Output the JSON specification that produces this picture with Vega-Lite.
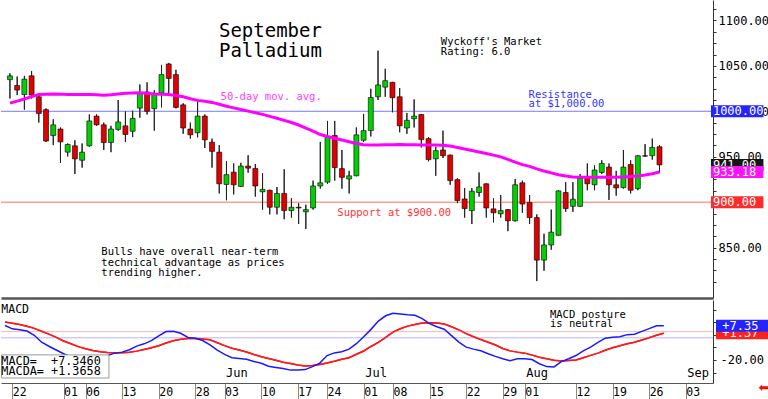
{
  "$schema": "https://vega.github.io/schema/vega-lite/v6.json",
  "padding": 0,
  "background": "white",
  "spacing": 2,
  "bounds": "flush",
  "config": {"view": {"stroke": null}, "text": {"font": "DejaVu Sans Mono"}, "axis": {"grid": false, "labelOverlap": false, "labelFlush": false, "labelBound": false}},
  "resolve": {"scale": {"x": "independent", "y": "independent", "color": "independent"}},
  "datasets": {
    "ohlc": [
      {"n":1,"o":1034.8,"h":1041.8,"l":1014.1,"c":1039.0,"ma":1009.0,"macd":7.5,"sig":10.3},
      {"n":2,"o":1028.4,"h":1038.3,"l":1017.8,"c":1023.4,"ma":1011.2,"macd":4.8,"sig":9.3},
      {"n":3,"o":1018.4,"h":1039.0,"l":1001.8,"c":1035.4,"ma":1013.5,"macd":4.1,"sig":8.3},
      {"n":4,"o":1039.0,"h":1044.4,"l":1014.1,"c":1017.8,"ma":1016.2,"macd":3.1,"sig":6.9},
      {"n":5,"o":1016.0,"h":1017.8,"l":987.6,"c":997.6,"ma":1018.4,"macd":-0.3,"sig":5.2},
      {"n":6,"o":1001.8,"h":1003.2,"l":966.3,"c":967.3,"ma":1018.7,"macd":-5.8,"sig":2.9},
      {"n":7,"o":973.4,"h":991.2,"l":962.8,"c":985.1,"ma":1019.0,"macd":-9.0,"sig":0.6},
      {"n":8,"o":980.5,"h":982.2,"l":943.3,"c":966.3,"ma":1018.9,"macd":-12.0,"sig":-2.0},
      {"n":9,"o":955.0,"h":964.6,"l":950.3,"c":963.5,"ma":1018.6,"macd":-15.0,"sig":-4.8},
      {"n":10,"o":962.0,"h":968.1,"l":930.9,"c":947.6,"ma":1018.4,"macd":-17.5,"sig":-7.0},
      {"n":11,"o":946.1,"h":964.6,"l":938.0,"c":955.0,"ma":1018.4,"macd":-18.5,"sig":-9.3},
      {"n":12,"o":962.0,"h":996.5,"l":961.0,"c":989.4,"ma":1018.4,"macd":-17.8,"sig":-11.0},
      {"n":13,"o":994.7,"h":996.5,"l":984.0,"c":985.1,"ma":1018.1,"macd":-17.0,"sig":-12.4},
      {"n":14,"o":985.1,"h":987.6,"l":957.4,"c":965.6,"ma":1017.8,"macd":-17.0,"sig":-13.4},
      {"n":15,"o":965.6,"h":984.0,"l":955.0,"c":980.5,"ma":1018.3,"macd":-16.3,"sig":-13.9},
      {"n":16,"o":980.1,"h":1012.4,"l":978.7,"c":988.3,"ma":1019.1,"macd":-14.5,"sig":-14.2},
      {"n":17,"o":984.0,"h":1000.0,"l":966.3,"c":974.5,"ma":1019.8,"macd":-13.7,"sig":-14.2},
      {"n":18,"o":978.0,"h":1000.7,"l":971.6,"c":992.2,"ma":1020.2,"macd":-11.8,"sig":-13.8},
      {"n":19,"o":1003.5,"h":1029.5,"l":992.9,"c":1019.5,"ma":1020.3,"macd":-8.9,"sig":-12.9},
      {"n":20,"o":1021.3,"h":1031.9,"l":996.5,"c":1000.0,"ma":1019.8,"macd":-7.1,"sig":-11.6},
      {"n":21,"o":1002.9,"h":1023.1,"l":978.7,"c":1018.4,"ma":1019.1,"macd":-4.5,"sig":-10.2},
      {"n":22,"o":1020.2,"h":1051.1,"l":1004.3,"c":1040.4,"ma":1018.8,"macd":-0.8,"sig":-8.6},
      {"n":23,"o":1052.1,"h":1053.2,"l":1019.1,"c":1036.2,"ma":1018.5,"macd":2.7,"sig":-6.4},
      {"n":24,"o":1040.4,"h":1045.7,"l":1003.2,"c":1004.3,"ma":1017.3,"macd":2.9,"sig":-4.6},
      {"n":25,"o":1007.1,"h":1008.8,"l":975.2,"c":981.6,"ma":1016.0,"macd":1.3,"sig":-3.4},
      {"n":26,"o":980.5,"h":987.6,"l":969.9,"c":974.1,"ma":1013.8,"macd":-2.0,"sig":-2.8},
      {"n":27,"o":976.4,"h":1012.4,"l":971.3,"c":994.7,"ma":1012.0,"macd":-2.6,"sig":-2.8},
      {"n":28,"o":994.7,"h":996.5,"l":959.6,"c":968.6,"ma":1011.0,"macd":-4.5,"sig":-3.2},
      {"n":29,"o":966.0,"h":969.9,"l":938.0,"c":955.9,"ma":1009.8,"macd":-7.9,"sig":-3.9},
      {"n":30,"o":955.0,"h":962.8,"l":909.6,"c":920.2,"ma":1007.7,"macd":-12.1,"sig":-6.2},
      {"n":31,"o":919.5,"h":945.0,"l":902.1,"c":930.3,"ma":1005.6,"macd":-15.5,"sig":-8.5},
      {"n":32,"o":933.0,"h":942.6,"l":908.5,"c":919.1,"ma":1003.8,"macd":-18.1,"sig":-10.6},
      {"n":33,"o":917.3,"h":943.3,"l":916.7,"c":939.7,"ma":1001.9,"macd":-18.7,"sig":-12.0},
      {"n":34,"o":939.7,"h":951.6,"l":932.4,"c":937.4,"ma":1000.2,"macd":-19.3,"sig":-13.6},
      {"n":35,"o":937.0,"h":942.0,"l":906.1,"c":917.8,"ma":998.4,"macd":-21.2,"sig":-15.6},
      {"n":36,"o":911.4,"h":931.9,"l":891.8,"c":914.1,"ma":996.6,"macd":-22.5,"sig":-17.4},
      {"n":37,"o":913.1,"h":913.6,"l":886.5,"c":894.4,"ma":994.4,"macd":-24.9,"sig":-18.8},
      {"n":38,"o":894.4,"h":916.7,"l":886.5,"c":909.6,"ma":992.3,"macd":-25.9,"sig":-20.1},
      {"n":39,"o":909.6,"h":936.2,"l":881.2,"c":890.7,"ma":990.0,"macd":-26.8,"sig":-21.7},
      {"n":40,"o":890.7,"h":904.3,"l":883.0,"c":894.4,"ma":987.7,"macd":-28.0,"sig":-22.8},
      {"n":41,"o":894.4,"h":898.9,"l":875.9,"c":893.6,"ma":984.9,"macd":-28.0,"sig":-24.0},
      {"n":42,"o":889.4,"h":897.1,"l":870.5,"c":891.8,"ma":981.6,"macd":-27.6,"sig":-24.7},
      {"n":43,"o":893.6,"h":923.7,"l":891.8,"c":917.8,"ma":978.2,"macd":-25.2,"sig":-24.4},
      {"n":44,"o":917.8,"h":966.3,"l":914.9,"c":921.3,"ma":974.4,"macd":-22.4,"sig":-23.6},
      {"n":45,"o":922.0,"h":989.4,"l":920.2,"c":971.6,"ma":972.2,"macd":-16.4,"sig":-22.4},
      {"n":46,"o":973.4,"h":989.4,"l":923.7,"c":938.0,"ma":970.3,"macd":-14.3,"sig":-21.0},
      {"n":47,"o":936.9,"h":957.4,"l":914.9,"c":927.3,"ma":968.4,"macd":-13.4,"sig":-19.3},
      {"n":48,"o":925.5,"h":934.4,"l":909.6,"c":929.0,"ma":966.5,"macd":-11.3,"sig":-18.2},
      {"n":49,"o":929.0,"h":982.2,"l":928.5,"c":974.1,"ma":964.5,"macd":-7.0,"sig":-15.4},
      {"n":50,"o":968.1,"h":997.1,"l":966.3,"c":978.7,"ma":963.3,"macd":-1.5,"sig":-12.8},
      {"n":51,"o":978.7,"h":1024.8,"l":972.3,"c":1015.2,"ma":962.8,"macd":4.4,"sig":-9.2},
      {"n":52,"o":1016.0,"h":1066.7,"l":1012.4,"c":1029.0,"ma":963.0,"macd":11.0,"sig":-6.0},
      {"n":53,"o":1026.6,"h":1046.8,"l":1016.0,"c":1033.7,"ma":963.2,"macd":15.2,"sig":-2.0},
      {"n":54,"o":1031.9,"h":1032.4,"l":998.9,"c":1014.9,"ma":963.3,"macd":17.2,"sig":2.2},
      {"n":55,"o":1016.0,"h":1025.5,"l":976.9,"c":984.0,"ma":963.5,"macd":16.6,"sig":4.9},
      {"n":56,"o":981.6,"h":998.2,"l":975.2,"c":990.1,"ma":963.3,"macd":16.0,"sig":7.0},
      {"n":57,"o":991.8,"h":1013.1,"l":982.2,"c":994.7,"ma":963.2,"macd":15.6,"sig":8.3},
      {"n":58,"o":996.5,"h":997.0,"l":960.3,"c":968.8,"ma":963.0,"macd":12.9,"sig":9.4},
      {"n":59,"o":969.9,"h":971.6,"l":945.0,"c":946.8,"ma":962.9,"macd":9.0,"sig":9.7},
      {"n":60,"o":947.7,"h":961.0,"l":929.0,"c":956.7,"ma":962.8,"macd":6.5,"sig":9.5},
      {"n":61,"o":957.4,"h":978.7,"l":948.6,"c":951.1,"ma":962.6,"macd":4.5,"sig":8.6},
      {"n":62,"o":951.8,"h":952.3,"l":919.1,"c":923.7,"ma":961.7,"macd":-0.6,"sig":6.5},
      {"n":63,"o":924.8,"h":926.3,"l":898.9,"c":901.8,"ma":960.1,"macd":-5.7,"sig":4.0},
      {"n":64,"o":903.5,"h":915.6,"l":883.0,"c":892.9,"ma":958.5,"macd":-9.7,"sig":1.0},
      {"n":65,"o":890.7,"h":915.6,"l":875.9,"c":912.0,"ma":956.9,"macd":-11.3,"sig":-1.5},
      {"n":66,"o":910.6,"h":932.7,"l":906.1,"c":916.7,"ma":955.3,"macd":-12.6,"sig":-3.7},
      {"n":67,"o":920.2,"h":920.7,"l":883.0,"c":893.6,"ma":953.6,"macd":-15.0,"sig":-5.8},
      {"n":68,"o":892.6,"h":904.3,"l":877.7,"c":888.3,"ma":951.8,"macd":-17.1,"sig":-8.0},
      {"n":69,"o":887.2,"h":907.8,"l":883.0,"c":890.7,"ma":949.8,"macd":-18.9,"sig":-10.8},
      {"n":70,"o":891.8,"h":892.3,"l":868.1,"c":879.5,"ma":947.0,"macd":-20.5,"sig":-12.7},
      {"n":71,"o":879.5,"h":925.5,"l":878.7,"c":919.1,"ma":944.0,"macd":-18.9,"sig":-13.7},
      {"n":72,"o":921.3,"h":923.7,"l":888.3,"c":897.9,"ma":941.3,"macd":-18.9,"sig":-14.5},
      {"n":73,"o":899.7,"h":907.8,"l":875.9,"c":883.0,"ma":939.4,"macd":-19.6,"sig":-16.1},
      {"n":74,"o":883.0,"h":886.5,"l":813.1,"c":836.2,"ma":936.7,"macd":-22.9,"sig":-17.7},
      {"n":75,"o":836.2,"h":865.2,"l":824.5,"c":852.9,"ma":934.2,"macd":-25.2,"sig":-19.0},
      {"n":76,"o":852.9,"h":891.8,"l":847.6,"c":867.0,"ma":932.2,"macd":-25.5,"sig":-20.1},
      {"n":77,"o":863.5,"h":913.1,"l":862.8,"c":912.4,"ma":930.2,"macd":-21.2,"sig":-20.7},
      {"n":78,"o":910.6,"h":922.0,"l":889.4,"c":892.9,"ma":928.9,"macd":-19.0,"sig":-20.4},
      {"n":79,"o":895.4,"h":922.0,"l":889.4,"c":903.2,"ma":927.8,"macd":-16.4,"sig":-19.9},
      {"n":80,"o":895.4,"h":930.9,"l":894.7,"c":926.3,"ma":927.3,"macd":-12.7,"sig":-18.1},
      {"n":81,"o":926.3,"h":942.6,"l":913.1,"c":920.2,"ma":927.3,"macd":-9.7,"sig":-16.3},
      {"n":82,"o":919.1,"h":940.4,"l":913.1,"c":935.4,"ma":927.3,"macd":-5.9,"sig":-14.5},
      {"n":83,"o":932.7,"h":946.1,"l":930.9,"c":942.6,"ma":927.3,"macd":-2.6,"sig":-12.2},
      {"n":84,"o":938.6,"h":942.6,"l":902.4,"c":919.1,"ma":927.3,"macd":-1.9,"sig":-10.2},
      {"n":85,"o":919.1,"h":934.4,"l":907.1,"c":915.7,"ma":927.3,"macd":-1.5,"sig":-8.6},
      {"n":86,"o":916.0,"h":957.4,"l":914.9,"c":938.6,"ma":927.7,"macd":0.2,"sig":-7.1},
      {"n":87,"o":941.5,"h":946.1,"l":909.6,"c":913.1,"ma":928.1,"macd":0.6,"sig":-5.8},
      {"n":88,"o":914.9,"h":951.6,"l":913.1,"c":951.1,"ma":928.7,"macd":2.8,"sig":-4.0},
      {"n":89,"o":951.1,"h":963.8,"l":950.0,"c":950.6,"ma":929.8,"macd":5.0,"sig":-2.3},
      {"n":90,"o":951.1,"h":969.9,"l":946.8,"c":960.3,"ma":931.2,"macd":7.3,"sig":-0.3},
      {"n":91,"o":961.0,"h":962.8,"l":932.7,"c":941.0,"ma":933.18,"macd":7.35,"sig":1.37}
    ],
    "notes": [
      {"g":"title","n":29.96,"p":1081.6,"t":"September"},
      {"g":"title","n":29.96,"p":1060.3,"t":"Palladium"},
      {"g":"black","n":60.7,"p":1072.9,"t":"Wyckoff's Market"},
      {"g":"black","n":60.7,"p":1062.2,"t":"Rating: 6.0"},
      {"g":"black","n":13.66,"p":841.5,"t":"Bulls have overall near-term"},
      {"g":"black","n":13.66,"p":829.8,"t":"technical advantage as prices"},
      {"g":"black","n":13.66,"p":819.1,"t":"trending higher."},
      {"g":"ma","n":30.19,"p":1012.0,"t":"50-day mov. avg."},
      {"g":"res","n":72.86,"p":1014.9,"t":"Resistance"},
      {"g":"res","n":72.86,"p":1004.8,"t":"at $1,000.00"},
      {"g":"sup","n":46.36,"p":884.8,"t":"Support at $900.00"}
    ],
    "ptags": [
      {"k":"res","v":1000,"t":"1000.00"},
      {"k":"last","v":941,"t":"941.00"},
      {"k":"ma","v":933.18,"t":"933.18"},
      {"k":"sup","v":900,"t":"900.00"}
    ],
    "mnotes": [
      {"g":"big","n":0.5,"v":17.7,"t":"MACD"},
      {"g":"small","n":75.45,"v":13.1,"t":"MACD posture"},
      {"g":"small","n":75.45,"v":6.1,"t":"is neutral"}
    ],
    "mbox": [
      {"n":0.5,"v":-24.3,"t":"MACD=\u00a0\u00a0+7.3460"},
      {"n":0.5,"v":-31.7,"t":"MACDA=\u00a0+1.3658"}
    ],
    "months": [
      {"n":31,"t":"Jun"},
      {"n":50,"t":"Jul"},
      {"n":72,"t":"Aug"},
      {"n":94,"t":"Sep"}
    ],
    "mtags": [
      {"k":"sig","v":1.37,"t":"+1.37"},
      {"k":"macd","v":7.35,"t":"+7.35"}
    ],
    "mticks": [
      {"v":-20,"t":"-20.00"}
    ]
  },
  "vconcat": [
    {
      "width": 712,
      "height": 298,
      "layer": [
        {
          "data": {"name": "ohlc"},
          "mark": {"type": "rule", "color": "#222222", "strokeWidth": 1},
          "encoding": {
            "x": {"field": "n", "type": "quantitative", "title": null,
                  "scale": {"domain": [0.454, 97.72], "nice": false, "zero": false},
                  "axis": {"orient": "bottom", "domain": true, "domainColor": "#555555", "domainWidth": 2.5, "ticks": false, "labels": false, "title": null, "grid": false}},
            "y": {"field": "l", "type": "quantitative", "title": null,
                  "scale": {"domain": [800, 1117], "nice": false, "zero": false},
                  "axis": {"orient": "right", "title": null, "grid": false, "tickCount": 500,
                           "values": [812.5,825,837.5,850,862.5,875,887.5,900,912.5,925,937.5,950,962.5,975,987.5,1000,1012.5,1025,1037.5,1050,1062.5,1075,1087.5,1100,1112.5],
                           "labelExpr": "(datum.value % 50 == 0 && datum.value >= 850) ? format(datum.value, '.2f') : ''",
                           "tickSize": 3, "tickColor": "#333333", "domainColor": "#333333",
                           "labelFont": "DejaVu Sans Mono", "labelFontSize": 12, "labelColor": "#000000",
                           "labelPadding": 2, "labelFlush": false, "labelOverlap": false, "labelBound": false, "labelBaseline": "middle"}},
            "y2": {"field": "h"}
          }
        },
        {
          "data": {"values": [{}]},
          "mark": {"type": "rule", "color": "#ff9c9c", "strokeWidth": 1.5},
          "encoding": {"y": {"datum": 900, "type": "quantitative", "title": null, "scale": {"domain": [800, 1117], "nice": false, "zero": false}}}
        },
        {
          "data": {"values": [{}]},
          "mark": {"type": "rule", "color": "#7a7aff", "strokeWidth": 1},
          "encoding": {"y": {"datum": 1000, "type": "quantitative", "title": null, "scale": {"domain": [800, 1117], "nice": false, "zero": false}}}
        },
        {
          "data": {"name": "ohlc"},
          "mark": {"type": "rule", "color": "#222222", "strokeWidth": 1},
          "encoding": {
            "x": {"field": "n", "type": "quantitative", "title": null, "scale": {"domain": [0.454, 97.72], "nice": false, "zero": false}},
            "y": {"field": "l", "type": "quantitative", "title": null, "scale": {"domain": [800, 1117], "nice": false, "zero": false}},
            "y2": {"field": "h"}
          }
        },
        {
          "data": {"name": "ohlc"},
          "mark": {"type": "bar", "size": 5, "stroke": "#000000", "strokeWidth": 0.6},
          "encoding": {
            "x": {"field": "n", "type": "quantitative", "title": null, "scale": {"domain": [0.454, 97.72], "nice": false, "zero": false}},
            "y": {"field": "o", "type": "quantitative", "title": null, "scale": {"domain": [800, 1117], "nice": false, "zero": false}},
            "y2": {"field": "c"},
            "color": {"condition": {"test": "datum.c >= datum.o", "value": "#00d000"}, "value": "#e00000"}
          }
        },
        {
          "data": {"name": "ohlc"},
          "mark": {"type": "line", "color": "#ff00ff", "strokeWidth": 3},
          "encoding": {
            "x": {"field": "n", "type": "quantitative", "title": null, "scale": {"domain": [0.454, 97.72], "nice": false, "zero": false}},
            "y": {"field": "ma", "type": "quantitative", "title": null, "scale": {"domain": [800, 1117], "nice": false, "zero": false}}
          }
        },
        {
          "data": {"name": "notes"},
          "mark": {"type": "text", "align": "left", "baseline": "alphabetic", "font": "DejaVu Sans Mono"},
          "encoding": {
            "x": {"field": "n", "type": "quantitative", "title": null, "scale": {"domain": [0.454, 97.72], "nice": false, "zero": false}},
            "y": {"field": "p", "type": "quantitative", "title": null, "scale": {"domain": [800, 1117], "nice": false, "zero": false}},
            "text": {"field": "t"},
            "size": {"condition": {"test": "datum.g == 'title'", "value": 19}, "value": 10.5},
            "color": {"condition": [
              {"test": "datum.g == 'ma'", "value": "#ff40ff"},
              {"test": "datum.g == 'res'", "value": "#3535ff"},
              {"test": "datum.g == 'sup'", "value": "#ff3535"}
            ], "value": "#000000"}
          }
        },
        {
          "data": {"name": "ptags"},
          "transform": [{"filter": "datum.k == 'res' || datum.k == 'last'"}],
          "mark": {"type": "bar", "orient": "horizontal", "size": 12},
          "encoding": {
            "x": {"datum": 98.13, "type": "quantitative", "title": null, "scale": {"domain": [0.454, 97.72], "nice": false, "zero": false}},
            "x2": {"datum": 105.4},
            "y": {"field": "v", "type": "quantitative", "title": null, "scale": {"domain": [800, 1117], "nice": false, "zero": false}},
            "color": {"condition": {"test": "datum.k == 'res'", "value": "#2424ff"}, "value": "#151515"}
          }
        },
        {
          "data": {"name": "ptags"},
          "transform": [{"filter": "datum.k == 'res' || datum.k == 'last'"}],
          "mark": {"type": "text", "align": "left", "baseline": "middle", "fontSize": 12, "color": "#ffffff", "font": "DejaVu Sans Mono"},
          "encoding": {
            "x": {"datum": 98.4, "type": "quantitative", "title": null, "scale": {"domain": [0.454, 97.72], "nice": false, "zero": false}},
            "y": {"field": "v", "type": "quantitative", "title": null, "scale": {"domain": [800, 1117], "nice": false, "zero": false}},
            "text": {"field": "t"}
          }
        },
        {
          "data": {"name": "ptags"},
          "transform": [{"filter": "datum.k == 'ma' || datum.k == 'sup'"}],
          "mark": {"type": "bar", "orient": "horizontal", "size": 12},
          "encoding": {
            "x": {"datum": 98.13, "type": "quantitative", "title": null, "scale": {"domain": [0.454, 97.72], "nice": false, "zero": false}},
            "x2": {"datum": 105.4},
            "y": {"field": "v", "type": "quantitative", "title": null, "scale": {"domain": [800, 1117], "nice": false, "zero": false}},
            "color": {"condition": {"test": "datum.k == 'ma'", "value": "#ff10ff"}, "value": "#ff2a2a"}
          }
        },
        {
          "data": {"name": "ptags"},
          "transform": [{"filter": "datum.k == 'ma' || datum.k == 'sup'"}],
          "mark": {"type": "text", "align": "left", "baseline": "middle", "fontSize": 12, "color": "#ffffff", "font": "DejaVu Sans Mono"},
          "encoding": {
            "x": {"datum": 98.4, "type": "quantitative", "title": null, "scale": {"domain": [0.454, 97.72], "nice": false, "zero": false}},
            "y": {"field": "v", "type": "quantitative", "title": null, "scale": {"domain": [800, 1117], "nice": false, "zero": false}},
            "text": {"field": "t"}
          }
        }
      ]
    },
    {
      "width": 712,
      "height": 83,
      "layer": [
        {
          "data": {"name": "ohlc"},
          "mark": {"type": "line", "color": "#ff1a1a", "strokeWidth": 1.5},
          "encoding": {
            "x": {"field": "n", "type": "quantitative", "title": null,
                  "scale": {"domain": [0.454, 97.72], "nice": false, "zero": false},
                  "axis": {"orient": "bottom", "title": null, "grid": false, "tickCount": 500,
                           "values": [2,9,12,17,22,27,31,36,41,45,50,54,59,64,69,72,79,84,89,94],
                           "labelExpr": "['22','01','06','13','20','28','03','10','17','24','01','08','15','22','29','01','12','19','26','03'][indexof([2,9,12,17,22,27,31,36,41,45,50,54,59,64,69,72,79,84,89,94], datum.value)]",
                           "domainColor": "#555555", "domainWidth": 1.2,
                           "tickSize": 16, "tickColor": "#8a8a8a", "tickWidth": 1,
                           "labelAlign": "left", "labelDx": 1.5, "labelPadding": -3.7, "labelBaseline": "alphabetic",
                           "labelFont": "DejaVu Sans Mono", "labelFontSize": 11.5, "labelColor": "#000000",
                           "labelFlush": false, "labelOverlap": false, "labelBound": false}},
            "y": {"field": "sig", "type": "quantitative", "title": null,
                  "scale": {"domain": [-34.27, 23.78], "nice": false, "zero": false},
                  "axis": {"orient": "right", "title": null, "grid": false, "tickCount": 500,
                           "values": [-30, -20, -10, 0, 10, 20],
                           "labels": false,
                           "tickSize": 3, "tickColor": "#333333", "domainColor": "#333333"}}
          }
        },
        {
          "data": {"values": [{}]},
          "mark": {"type": "rule", "color": "#ffb5b5", "strokeWidth": 1},
          "encoding": {"y": {"datum": 2.6, "type": "quantitative", "title": null, "scale": {"domain": [-34.27, 23.78], "nice": false, "zero": false}}}
        },
        {
          "data": {"values": [{}]},
          "mark": {"type": "rule", "color": "#b5b5ff", "strokeWidth": 1},
          "encoding": {"y": {"datum": -2.3, "type": "quantitative", "title": null, "scale": {"domain": [-34.27, 23.78], "nice": false, "zero": false}}}
        },
        {
          "data": {"name": "ohlc"},
          "mark": {"type": "line", "color": "#ff1a1a", "strokeWidth": 1.5},
          "encoding": {
            "x": {"field": "n", "type": "quantitative", "title": null, "scale": {"domain": [0.454, 97.72], "nice": false, "zero": false}},
            "y": {"field": "sig", "type": "quantitative", "title": null, "scale": {"domain": [-34.27, 23.78], "nice": false, "zero": false}}
          }
        },
        {
          "data": {"name": "ohlc"},
          "mark": {"type": "line", "color": "#1a1aff", "strokeWidth": 1.5},
          "encoding": {
            "x": {"field": "n", "type": "quantitative", "title": null, "scale": {"domain": [0.454, 97.72], "nice": false, "zero": false}},
            "y": {"field": "macd", "type": "quantitative", "title": null, "scale": {"domain": [-34.27, 23.78], "nice": false, "zero": false}}
          }
        },
        {
          "data": {"name": "mnotes"},
          "mark": {"type": "text", "align": "left", "baseline": "alphabetic", "color": "#000000", "font": "DejaVu Sans Mono"},
          "encoding": {
            "x": {"field": "n", "type": "quantitative", "title": null, "scale": {"domain": [0.454, 97.72], "nice": false, "zero": false}},
            "y": {"field": "v", "type": "quantitative", "title": null, "scale": {"domain": [-34.27, 23.78], "nice": false, "zero": false}},
            "text": {"field": "t"},
            "size": {"condition": {"test": "datum.g == 'big'", "value": 11.5}, "value": 10.5}
          }
        },
        {
          "data": {"values": [{}]},
          "mark": {"type": "rect", "fill": "#ffffff", "stroke": "#9a9a9a", "strokeWidth": 1},
          "encoding": {
            "x": {"datum": 0.53, "type": "quantitative", "title": null, "scale": {"domain": [0.454, 97.72], "nice": false, "zero": false}},
            "x2": {"datum": 15.2},
            "y": {"datum": -15.9, "type": "quantitative", "title": null, "scale": {"domain": [-34.27, 23.78], "nice": false, "zero": false}},
            "y2": {"datum": -34.27}
          }
        },
        {
          "data": {"name": "mbox"},
          "mark": {"type": "text", "align": "left", "baseline": "alphabetic", "fontSize": 11.8, "color": "#000000", "font": "DejaVu Sans Mono"},
          "encoding": {
            "x": {"field": "n", "type": "quantitative", "title": null, "scale": {"domain": [0.454, 97.72], "nice": false, "zero": false}},
            "y": {"field": "v", "type": "quantitative", "title": null, "scale": {"domain": [-34.27, 23.78], "nice": false, "zero": false}},
            "text": {"field": "t"}
          }
        },
        {
          "data": {"name": "months"},
          "mark": {"type": "text", "align": "left", "baseline": "alphabetic", "fontSize": 12, "dx": 1.5, "color": "#000000", "font": "DejaVu Sans Mono"},
          "encoding": {
            "x": {"field": "n", "type": "quantitative", "title": null, "scale": {"domain": [0.454, 97.72], "nice": false, "zero": false}},
            "y": {"datum": -33.6, "type": "quantitative", "title": null, "scale": {"domain": [-34.27, 23.78], "nice": false, "zero": false}},
            "text": {"field": "t"}
          }
        },
        {
          "data": {"name": "mticks"},
          "mark": {"type": "text", "align": "left", "baseline": "middle", "fontSize": 12, "color": "#000000", "font": "DejaVu Sans Mono"},
          "encoding": {
            "x": {"datum": 98.75, "type": "quantitative", "title": null, "scale": {"domain": [0.454, 97.72], "nice": false, "zero": false}},
            "y": {"field": "v", "type": "quantitative", "title": null, "scale": {"domain": [-34.27, 23.78], "nice": false, "zero": false}},
            "text": {"field": "t"}
          }
        },
        {
          "data": {"name": "mtags"},
          "transform": [{"filter": "datum.k == 'sig'"}],
          "mark": {"type": "bar", "orient": "horizontal", "size": 12, "color": "#ff2020"},
          "encoding": {
            "x": {"datum": 98.13, "type": "quantitative", "title": null, "scale": {"domain": [0.454, 97.72], "nice": false, "zero": false}},
            "x2": {"datum": 105.4},
            "y": {"field": "v", "type": "quantitative", "title": null, "scale": {"domain": [-34.27, 23.78], "nice": false, "zero": false}}
          }
        },
        {
          "data": {"name": "mtags"},
          "transform": [{"filter": "datum.k == 'sig'"}],
          "mark": {"type": "text", "align": "left", "baseline": "middle", "fontSize": 12, "color": "#ffffff", "font": "DejaVu Sans Mono"},
          "encoding": {
            "x": {"datum": 99.0, "type": "quantitative", "title": null, "scale": {"domain": [0.454, 97.72], "nice": false, "zero": false}},
            "y": {"field": "v", "type": "quantitative", "title": null, "scale": {"domain": [-34.27, 23.78], "nice": false, "zero": false}},
            "text": {"field": "t"}
          }
        },
        {
          "data": {"name": "mtags"},
          "transform": [{"filter": "datum.k == 'macd'"}],
          "mark": {"type": "bar", "orient": "horizontal", "size": 12, "color": "#2424ff"},
          "encoding": {
            "x": {"datum": 98.13, "type": "quantitative", "title": null, "scale": {"domain": [0.454, 97.72], "nice": false, "zero": false}},
            "x2": {"datum": 105.4},
            "y": {"field": "v", "type": "quantitative", "title": null, "scale": {"domain": [-34.27, 23.78], "nice": false, "zero": false}}
          }
        },
        {
          "data": {"name": "mtags"},
          "transform": [{"filter": "datum.k == 'macd'"}],
          "mark": {"type": "text", "align": "left", "baseline": "middle", "fontSize": 12, "color": "#ffffff", "font": "DejaVu Sans Mono"},
          "encoding": {
            "x": {"datum": 99.0, "type": "quantitative", "title": null, "scale": {"domain": [0.454, 97.72], "nice": false, "zero": false}},
            "y": {"field": "v", "type": "quantitative", "title": null, "scale": {"domain": [-34.27, 23.78], "nice": false, "zero": false}},
            "text": {"field": "t"}
          }
        },
        {
          "data": {"values": [{}]},
          "mark": {"type": "text", "text": "⬅", "font": "DejaVu Sans", "fontSize": 13, "color": "#ee1111", "align": "center", "baseline": "middle", "dy": 10},
          "encoding": {
            "x": {"datum": 104.69, "type": "quantitative", "title": null, "scale": {"domain": [0.454, 97.72], "nice": false, "zero": false}},
            "y": {"datum": -34.27, "type": "quantitative", "title": null, "scale": {"domain": [-34.27, 23.78], "nice": false, "zero": false}}
          }
        }
      ]
    }
  ]
}
